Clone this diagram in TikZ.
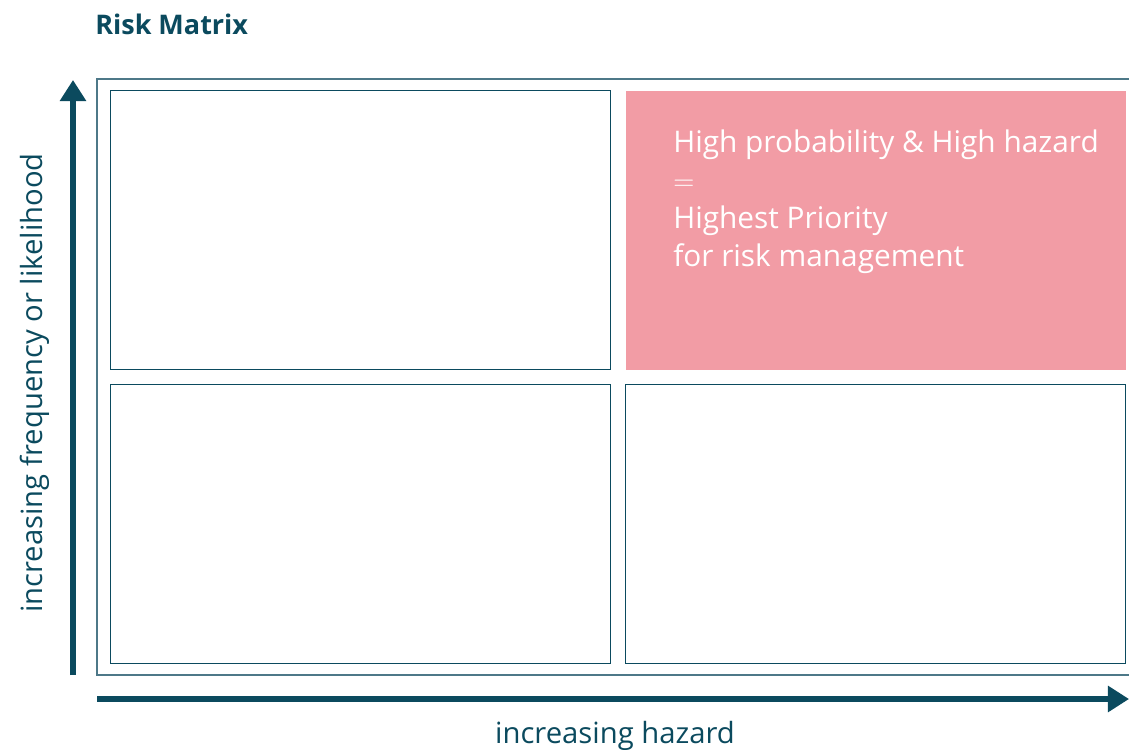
\documentclass[tikz,border=0pt]{standalone}
\usepackage{fontspec}
\setmainfont{Open Sans}
\usepackage{tikz}
\usetikzlibrary{arrows.meta,positioning}
\definecolor{riskteal}{HTML}{0B4A5E}
\definecolor{riskframe}{HTML}{4D7888}
\definecolor{riskpink}{HTML}{F29CA5}
\tikzset{
  cell/.style={draw=riskteal, line width=0.9pt, minimum width=500*0.025cm, minimum height=279*0.025cm, inner sep=0pt},
  axis/.style={riskteal, line width=3.6pt, -{Triangle[width=18pt,length=15pt]}},
  axislabel/.style={riskteal, font=\fontsize{20.8}{24}\selectfont},
}

\begin{document}
\begin{tikzpicture}[x=0.025cm,y=-0.025cm]
    \useasboundingbox (0,0) rectangle (1129,749);
    \clip (0,0) rectangle (1129,749);
    % title
    \node[anchor=base west, inner sep=0pt, riskteal, font=\fontsize{19.2}{22}\selectfont\bfseries] (title) at (95,35) {Risk Matrix};
    % outer frame
    \draw[riskframe, line width=1.1pt] (1140,79) -- (97,79) -- (97,675) -- (1140,675);
    % the four cells
    \node[cell, anchor=north west] (hl) at (110,90) {};
    \node[cell, anchor=north west, draw=none, fill=riskpink] (hh) at (625,90) {};
    \node[cell, anchor=north west] (ll) at (110,384) {};
    \node[cell, anchor=north west] (lh) at (625,384) {};
    % text in the high/high cell
    \node[anchor=north west, inner sep=0pt, white, align=left, font=\fontsize{21.2}{27}\selectfont] (prio) at (673,130)
      {High probability \& High hazard\\ $=$\\ Highest Priority\\ for risk management};
    % axes
    \coordinate (yfrom) at (73,675);
    \coordinate (yto) at (73,80);
    \coordinate (xfrom) at (97,699);
    \coordinate (xto) at (1129,699);
    \draw[axis] (yfrom) -- (yto);
    \draw[axis] (xfrom) -- (xto);
    \node[axislabel, rotate=90] (ylab) at (35,383) {increasing frequency or likelihood};
    \node[axislabel, anchor=base] (xlab) at (615,743) {increasing hazard};
\end{tikzpicture}
\end{document}
